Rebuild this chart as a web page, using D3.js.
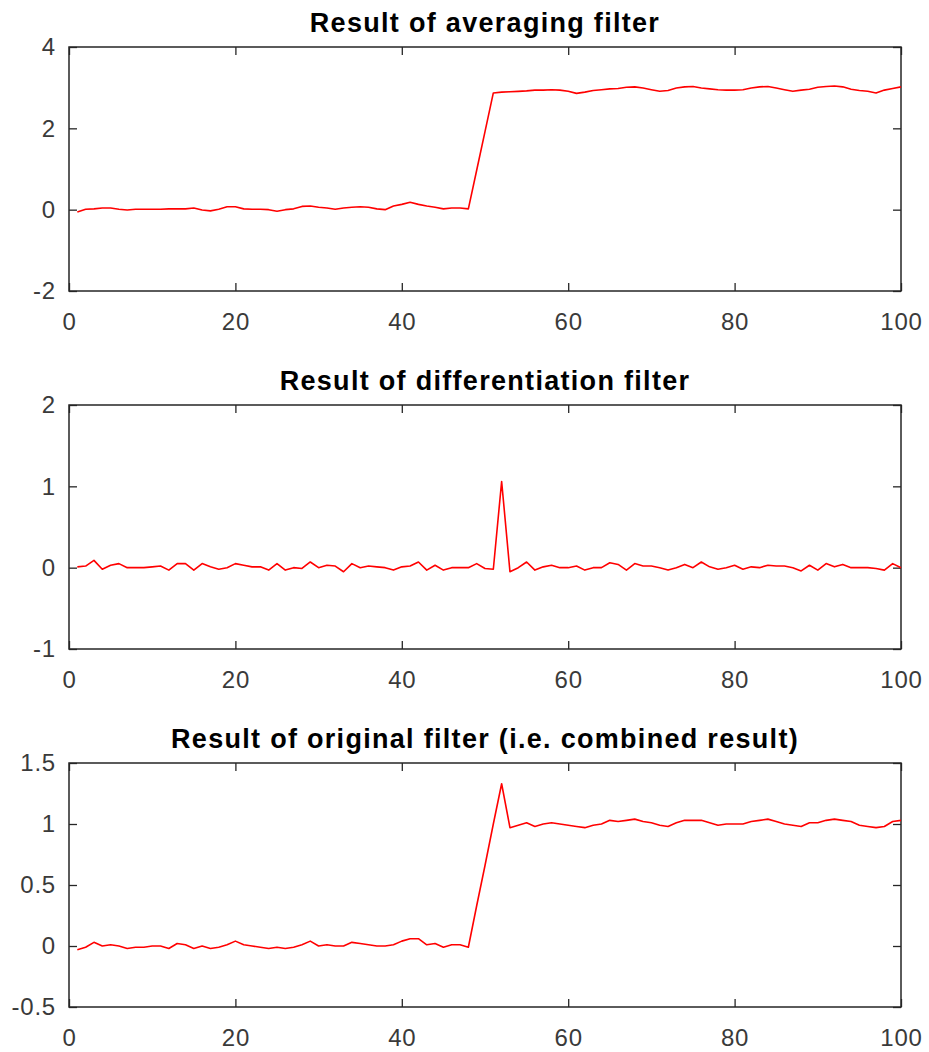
<!DOCTYPE html>
<html>
<head>
<meta charset="utf-8">
<script src="https://cdn.jsdelivr.net/npm/d3@7"></script>
<style>
  body { margin: 0; background: #fff; }
  text { font-family: "Liberation Sans", Arial, Helvetica, sans-serif; }
</style>
</head>
<body>
<div id="chart"></div>
<script>
const width = 929, height = 1052;
const left = 69, right = 901, plotHeight = 244;
const plotTops = [47, 405, 763];

const samples = d3.range(1, 101);

const averagingResult = [
  -0.06, 0.01, 0.02, 0.04, 0.04, 0.01, -0.01, 0.01, 0.01, 0.01,
  0.01, 0.02, 0.02, 0.02, 0.04, -0.01, -0.03, 0.01, 0.07, 0.07,
  0.02, 0.01, 0.01, 0.00, -0.04, 0.00, 0.02, 0.08, 0.09, 0.06,
  0.04, 0.01, 0.04, 0.06, 0.07, 0.06, 0.02, 0.00, 0.09, 0.13,
  0.18, 0.13, 0.09, 0.06, 0.02, 0.04, 0.04, 0.02, 0.97, 1.92,
  2.87, 2.89, 2.90, 2.91, 2.92, 2.94, 2.94, 2.95, 2.94, 2.91,
  2.86, 2.89, 2.93, 2.95, 2.97, 2.98, 3.01, 3.02, 2.99, 2.95,
  2.91, 2.93, 2.99, 3.02, 3.03, 2.99, 2.97, 2.95, 2.94, 2.94,
  2.95, 2.99, 3.02, 3.03, 2.99, 2.95, 2.91, 2.94, 2.96, 3.01,
  3.03, 3.04, 3.02, 2.96, 2.93, 2.91, 2.87, 2.94, 2.98, 3.02
];

const differentiationResult = [
  0.01, 0.02, 0.09, -0.02, 0.03, 0.05, 0.00, 0.00, 0.00, 0.01,
  0.02, -0.03, 0.05, 0.05, -0.03, 0.05, 0.01, -0.02, 0.00, 0.05,
  0.03, 0.01, 0.01, -0.03, 0.05, -0.03, 0.00, -0.01, 0.07, 0.00,
  0.03, 0.02, -0.05, 0.05, 0.00, 0.02, 0.01, 0.00, -0.03, 0.01,
  0.02, 0.07, -0.03, 0.03, -0.03, 0.00, 0.00, 0.00, 0.05, -0.01,
  -0.02, 1.06, -0.05, 0.00, 0.07, -0.03, 0.01, 0.03, 0.00, 0.00,
  0.02, -0.03, 0.00, 0.00, 0.06, 0.04, -0.03, 0.05, 0.02, 0.02,
  0.00, -0.03, 0.00, 0.04, 0.00, 0.07, 0.01, -0.02, 0.00, 0.03,
  -0.02, 0.01, 0.00, 0.03, 0.02, 0.02, 0.00, -0.04, 0.03, -0.03,
  0.05, 0.01, 0.04, 0.00, 0.00, 0.00, -0.01, -0.03, 0.05, 0.00
];

const combinedResult = [
  -0.03, -0.01, 0.03, 0.00, 0.01, 0.00, -0.02, -0.01, -0.01, 0.00,
  0.00, -0.02, 0.02, 0.01, -0.02, 0.00, -0.02, -0.01, 0.01, 0.04,
  0.01, 0.00, -0.01, -0.02, -0.01, -0.02, -0.01, 0.01, 0.04, 0.00,
  0.01, 0.00, 0.00, 0.03, 0.02, 0.01, 0.00, 0.00, 0.01, 0.04,
  0.06, 0.06, 0.01, 0.02, -0.01, 0.01, 0.01, -0.01, 0.33, 0.66,
  1.00, 1.33, 0.97, 0.99, 1.01, 0.98, 1.00, 1.01, 1.00, 0.99,
  0.98, 0.97, 0.99, 1.00, 1.03, 1.02, 1.03, 1.04, 1.02, 1.01,
  0.99, 0.98, 1.01, 1.03, 1.03, 1.03, 1.01, 0.99, 1.00, 1.00,
  1.00, 1.02, 1.03, 1.04, 1.02, 1.00, 0.99, 0.98, 1.01, 1.01,
  1.03, 1.04, 1.03, 1.02, 0.99, 0.98, 0.97, 0.98, 1.02, 1.03
];

const titles = [
  "Result of averaging filter",
  "Result of differentiation filter",
  "Result of original filter (i.e. combined result)"
];
const yDomains = [[-2, 4], [-1, 2], [-0.5, 1.5]];
const yTicks = [[-2, 0, 2, 4], [-1, 0, 1, 2], [-0.5, 0, 0.5, 1, 1.5]];
const xTicks = [0, 20, 40, 60, 80, 100];

const series = [averagingResult, differentiationResult, combinedResult];

const svg = d3.select("#chart")
  .append("svg")
  .attr("width", width)
  .attr("height", height);

var x = d3.scaleLinear().domain([0, 100]).range([left, right]);

// matlab style labels: plain hyphen for negatives
const plainFormat = d => String(d);

series.forEach((values, i) => {
  const top = plotTops[i], bottom = top + plotHeight;
  var y = d3.scaleLinear().domain(yDomains[i]).range([bottom, top]);
  var g = svg.append("g");

  // bottom axis with labels, ticks pointing in
  g.append("g")
    .attr("transform", "translate(0," + bottom + ")")
    .call(d3.axisBottom(x).tickValues(xTicks).tickSizeInner(-8).tickSizeOuter(0).tickPadding(22).tickFormat(plainFormat));
  g.append("g")
    .attr("transform", "translate(0," + top + ")")
    .call(d3.axisTop(x).tickValues(xTicks).tickSizeInner(-8).tickSizeOuter(0).tickFormat(""));
  g.append("g")
    .attr("transform", "translate(" + left + ",0)")
    .call(d3.axisLeft(y).tickValues(yTicks[i]).tickSizeInner(-8).tickSizeOuter(0).tickPadding(13).tickFormat(plainFormat));
  g.append("g")
    .attr("transform", "translate(" + right + ",0)")
    .call(d3.axisRight(y).tickValues(yTicks[i]).tickSizeInner(-8).tickSizeOuter(0).tickFormat(""));

  g.selectAll(".domain").remove();
  g.selectAll(".tick line").attr("stroke", "#262626").attr("stroke-width", 1.3);
  g.selectAll(".tick text")
    .attr("fill", "#3a3a3a")
    .style("font-size", "24px")
    .style("letter-spacing", "0.8px");

  g.append("rect")
    .attr("x", left).attr("y", top)
    .attr("width", right - left).attr("height", plotHeight)
    .attr("fill", "none")
    .attr("stroke", "#262626")
    .attr("stroke-width", 1.5);

  var line = d3.line()
    .x((d, k) => x(samples[k]))
    .y(d => y(d));

  g.append("path")
    .datum(values)
    .attr("d", line)
    .attr("fill", "none")
    .attr("stroke", "#ff0000")
    .attr("stroke-width", 1.6)
    .attr("stroke-linejoin", "round");

  g.append("text")
    .attr("x", (left + right) / 2)
    .attr("y", top - 15)
    .attr("text-anchor", "middle")
    .style("font-size", "27px")
    .style("font-weight", "bold")
    .style("letter-spacing", "1.3px")
    .attr("fill", "#000")
    .text(titles[i]);
});
</script>
</body>
</html>
